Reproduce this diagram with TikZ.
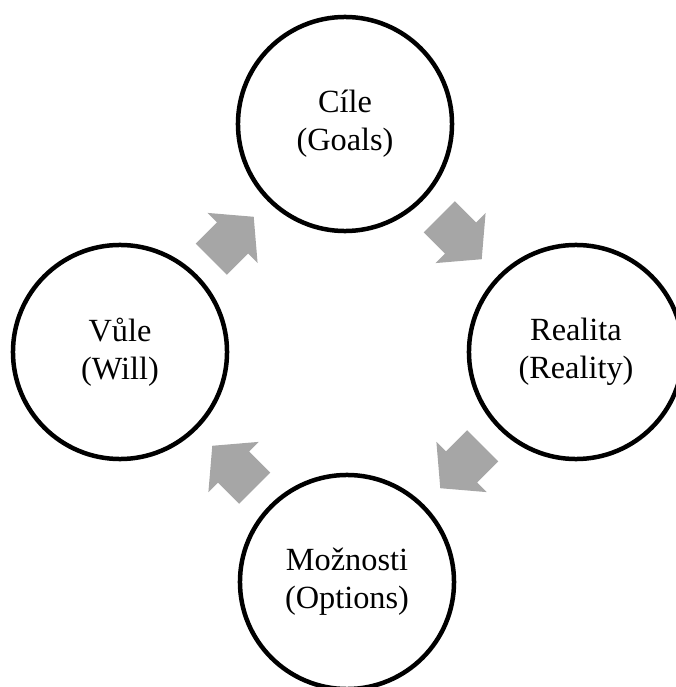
\documentclass[tikz,border=0pt]{standalone}
\usepackage{fontspec}
\setmainfont{Liberation Serif}
\usepackage{xcolor}
\usepackage{tikz}
\usetikzlibrary{calc}

\definecolor{sipka}{HTML}{A6A6A6}

\begin{document}
\begin{tikzpicture}[x=0.025cm, y=0.025cm,
    krok/.style={circle, draw=black, line width=3.2pt, minimum size=5.35cm,
        inner sep=0pt, align=center, font=\fontsize{23}{27}\selectfont},
    sipkablok/.pic={\fill[sipka] (-30,-22) -- (0,-22) -- (0,-35.5) -- (30,0)
        -- (0,35.5) -- (0,22) -- (-30,22) -- cycle;}]

    % =================================================================
    % OKRAJE OBRAZKU
    % =================================================================
    \useasboundingbox (0,0) rectangle (676,687);

    % =================================================================
    % KRUHY GROW
    % =================================================================
    \node[krok] (cile) at (345,563) {Cíle\\(Goals)};
    \node[krok] (realita) at (576,335) {Realita\\(Reality)};
    \node[krok] (moznosti) at (347,105) {Možnosti\\(Options)};
    \node[krok] (vule) at (120,335) {Vůle\\(Will)};

    % =================================================================
    % SIPKY MEZI KRUHY
    % =================================================================
    \coordinate (s1) at ($(cile)!0.5!(realita)$);
    \coordinate (s2) at ($(realita)!0.5!(moznosti)$);
    \coordinate (s3) at ($(moznosti)!0.5!(vule)$);
    \coordinate (s4) at ($(vule)!0.5!(cile)$);

    \pic[rotate=-45] at (s1) {sipkablok};
    \pic[rotate=-135] at (s2) {sipkablok};
    \pic[rotate=135] at (s3) {sipkablok};
    \pic[rotate=45] at (s4) {sipkablok};

\end{tikzpicture}
\end{document}
